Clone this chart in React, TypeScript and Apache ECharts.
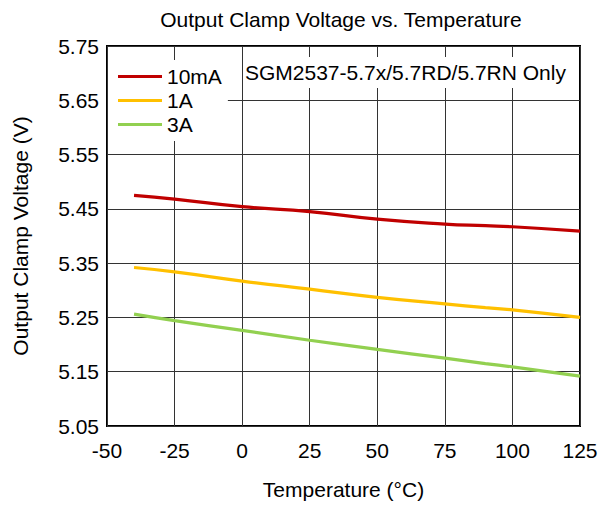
import React, { useEffect, useRef } from "react";
import * as echarts from "echarts";

const temps = [-40, -25, 0, 25, 50, 75, 90, 100, 125];
const v10mA = [5.475, 5.468, 5.454, 5.445, 5.431, 5.422, 5.419, 5.417, 5.409];
const v1A = [5.342, 5.334, 5.317, 5.302, 5.287, 5.275, 5.268, 5.264, 5.25];
const v3A = [5.256, 5.244, 5.226, 5.208, 5.191, 5.175, 5.165, 5.159, 5.142];
const yTicks = [5.05, 5.15, 5.25, 5.35, 5.45, 5.55, 5.65, 5.75];
const seriesNames = ["10mA", "1A", "3A"];
const colors = ["#C00000", "#FFC000", "#92D050"];

const FONT = "'Liberation Sans', Arial, sans-serif";
const FS = 21;

export default function App() {
  const ref = useRef<HTMLDivElement>(null);
  useEffect(() => {
    if (!ref.current) return;
    const chart = echarts.init(ref.current, undefined, { renderer: "svg" });
    const values = [v10mA, v1A, v3A];
    chart.setOption({
      animation: false,
      backgroundColor: "#fff",
      textStyle: { fontFamily: FONT, color: "#000" },
      title: {
        text: "Output Clamp Voltage vs. Temperature",
        left: 336,
        textAlign: "center",
        top: 4,
        textStyle: { fontFamily: FONT, fontSize: FS, fontWeight: "normal", color: "#000" },
      },
      grid: {
        left: 107,
        right: 29,
        top: 46,
        bottom: 81,
        show: true,
        borderColor: "#000",
        borderWidth: 2,
        backgroundColor: "transparent",
      },
      legend: {
        orient: "vertical",
        left: 108,
        top: 60,
        padding: [6, 6, 6, 10],
        itemGap: 3,
        itemWidth: 44,
        itemHeight: 3,
        icon: "rect",
        backgroundColor: "#fff",
        data: seriesNames,
        textStyle: { fontFamily: FONT, fontSize: FS, color: "#000" },
        z: 5,
      },
      xAxis: {
        type: "value",
        min: -50,
        max: 125,
        interval: 25,
        name: "Temperature (°C)",
        nameLocation: "middle",
        nameGap: 53,
        nameTextStyle: { fontFamily: FONT, fontSize: FS, color: "#000" },
        axisLine: { show: false },
        axisTick: { show: false },
        axisLabel: { fontFamily: FONT, fontSize: FS, color: "#000", margin: 14 },
        splitLine: { show: true, lineStyle: { color: "#333", width: 1 } },
      },
      yAxis: {
        type: "value",
        min: 5.05,
        max: 5.75,
        name: "Output Clamp Voltage (V)",
        nameLocation: "middle",
        nameGap: 76,
        nameTextStyle: { fontFamily: FONT, fontSize: FS, color: "#000" },
        axisLine: { show: false },
        axisTick: { show: false, customValues: yTicks },
        axisLabel: {
          fontFamily: FONT,
          fontSize: FS,
          color: "#000",
          margin: 8,
          customValues: yTicks,
          formatter: (v: number) => v.toFixed(2),
        },
        splitLine: { show: true, lineStyle: { color: "#333", width: 1 } },
      },
      graphic: [
        {
          type: "text",
          left: 244,
          top: 57,
          z: 5,
          style: {
            text: "SGM2537-5.7x/5.7RD/5.7RN Only",
            fontFamily: FONT,
            fontSize: FS,
            fill: "#000",
            backgroundColor: "#fff",
            padding: [5, 2, 5, 1],
          },
        },
      ],
      series: seriesNames.map((name, i) => ({
        name,
        type: "line",
        smooth: true,
        showSymbol: false,
        symbol: "none",
        data: temps.map((t, j) => [t, values[i][j]]),
        lineStyle: { color: colors[i], width: 3.2 },
        itemStyle: { color: colors[i] },
        z: 3,
      })),
    });
    return () => chart.dispose();
  }, []);
  return <div ref={ref} style={{ width: 609, height: 507, position: "absolute", left: 0, top: 0 }} />;
}
